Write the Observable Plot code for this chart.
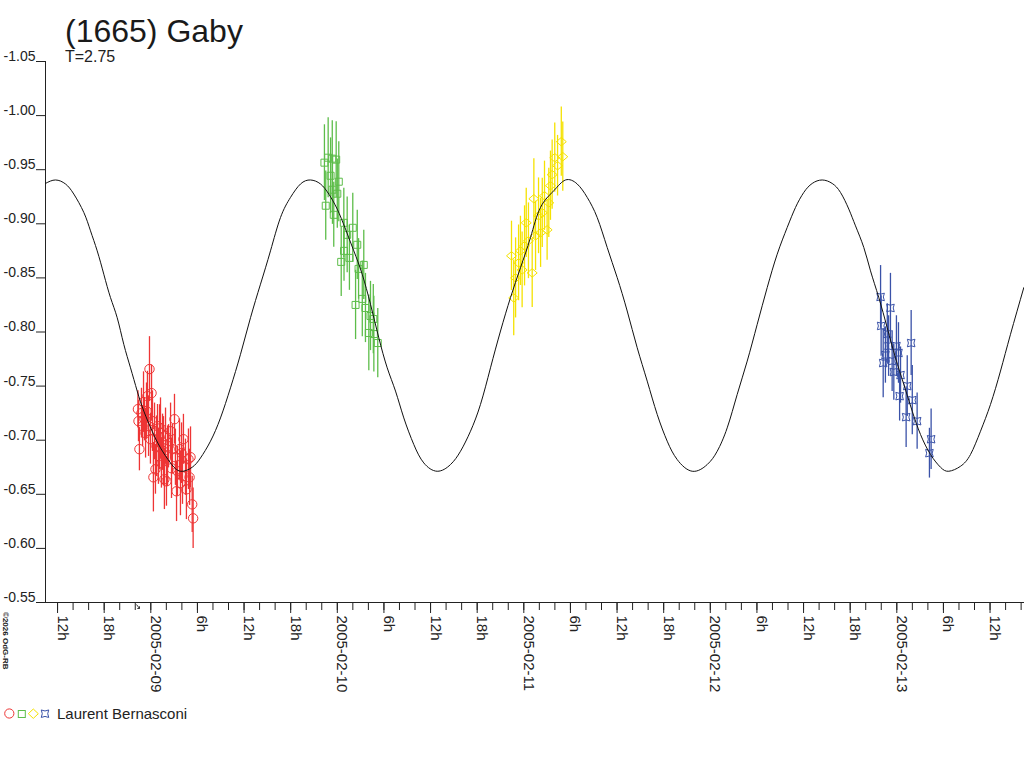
<!DOCTYPE html>
<html>
<head>
<meta charset="utf-8">
<script src="https://cdn.jsdelivr.net/npm/d3@7"></script>
<script src="https://cdn.jsdelivr.net/npm/@observablehq/plot@0.6"></script>
<style>
  body { margin: 0; background: #fff; font-family: "Liberation Sans", Arial, sans-serif; }
  #wrap { position: relative; width: 1024px; height: 768px; overflow: hidden; background: #fff; }
  #chart { position: absolute; left: 0; top: 0; }
  .title { position: absolute; left: 65px; top: 15px; font-size: 32px; line-height: 32px; color: #1a1a1a; white-space: nowrap; }
  .sub { position: absolute; left: 65px; top: 49px; font-size: 16px; line-height: 16px; color: #222; white-space: nowrap; }
  #deco { position: absolute; left: 0; top: 0; pointer-events: none; }
</style>
</head>
<body>
<div id="wrap">
  <div id="chart"></div>
  <div class="title">(1665) Gaby</div>
  <div class="sub">T=2.75</div>
  <svg id="deco" width="1024" height="768"></svg>
</div>
<script>
// ---------- data (day = decimal day of February 2005, UTC) ----------
const curveDay = [8.4354, 8.489, 8.5426, 8.5871, 8.6408, 8.6767, 8.7126, 8.748, 8.7839, 8.8198,
  8.8552, 8.8912, 8.9271, 8.9625, 9.0075, 9.052, 9.1056, 9.1592, 9.222, 9.2665,
  9.3201, 9.3737, 9.4273, 9.481, 9.5346, 9.5882, 9.6418, 9.6954, 9.7491, 9.8027,
  9.8563, 9.9099, 9.9544, 9.9995, 10.044, 10.0885, 10.1335, 10.178, 10.2225, 10.2676,
  10.3121, 10.3566, 10.4102, 10.4638, 10.5357, 10.607, 10.6606, 10.7142, 10.7678, 10.8214,
  10.8751, 10.9287, 10.9823, 11.0359, 11.0895, 11.1609, 11.2236, 11.2863, 11.34, 11.3936,
  11.4472, 11.5008, 11.5544, 11.608, 11.6617, 11.7153, 11.7689, 11.8225, 11.903, 11.9834,
  12.037, 12.0906, 12.1442, 12.1979, 12.2515, 12.3051, 12.3587, 12.4123, 12.4568, 12.5013,
  12.5464, 12.6, 12.6536, 12.6981, 12.7426, 12.7786, 12.8231, 12.859, 12.9035, 12.9485,
  12.993, 13.0375, 13.0826, 13.1271, 13.1807, 13.2343, 13.2788, 13.3416, 13.3952, 13.4488,
  13.5024, 13.556, 13.6097, 13.681];
const curveMag = [-0.9373, -0.9405, -0.9368, -0.9275, -0.9105, -0.8935, -0.875, -0.8534, -0.8318, -0.8132,
  -0.7886, -0.7669, -0.7454, -0.7269, -0.7083, -0.6929, -0.679, -0.6713, -0.675, -0.6836,
  -0.6991, -0.7206, -0.7484, -0.7794, -0.8132, -0.8442, -0.875, -0.9058, -0.9244, -0.9368,
  -0.9405, -0.9368, -0.9275, -0.9136, -0.8951, -0.875, -0.8534, -0.8256, -0.7947, -0.7669,
  -0.7454, -0.7206, -0.696, -0.679, -0.6713, -0.6775, -0.6898, -0.7083, -0.7331, -0.7669,
  -0.8009, -0.8318, -0.8595, -0.8873, -0.9151, -0.9306, -0.9405, -0.9368, -0.9244, -0.9058,
  -0.8781, -0.8503, -0.8194, -0.7855, -0.7546, -0.7238, -0.6991, -0.6821, -0.6713, -0.6775,
  -0.6898, -0.7114, -0.7423, -0.7731, -0.8071, -0.841, -0.8719, -0.8966, -0.9151, -0.929,
  -0.9373, -0.9405, -0.9373, -0.929, -0.9136, -0.8981, -0.8781, -0.8565, -0.8318, -0.804,
  -0.7762, -0.7516, -0.7269, -0.7053, -0.6868, -0.675, -0.6713, -0.6759, -0.6868, -0.7083,
  -0.7331, -0.7639, -0.7979, -0.841];

const redDay = [8.931, 8.934, 8.939, 8.950, 8.956, 8.961, 8.966, 8.972, 8.977, 8.982,
  8.988, 8.993, 8.998, 9.004, 9.009, 9.014, 9.020, 9.025, 9.031, 9.036,
  9.041, 9.047, 9.052, 9.057, 9.063, 9.068, 9.073, 9.079, 9.084, 9.090,
  9.095, 9.106, 9.111, 9.116, 9.127, 9.132, 9.138, 9.143, 9.154, 9.159,
  9.165, 9.170, 9.175, 9.186, 9.191, 9.202, 9.208, 9.213, 9.222, 9.227];
const redMag = [-0.7287, -0.7176, -0.6917, -0.725, -0.713, -0.7352, -0.7194, -0.7065, -0.7269, -0.7407,
  -0.713, -0.7657, -0.7009, -0.7435, -0.7176, -0.6657, -0.7083, -0.6731, -0.6944, -0.713,
  -0.6852, -0.7028, -0.7111, -0.6787, -0.6981, -0.6898, -0.6639, -0.7037, -0.662, -0.6852,
  -0.6944, -0.7083, -0.6741, -0.6917, -0.7194, -0.6843, -0.6528, -0.6713, -0.6917, -0.6602,
  -0.688, -0.6667, -0.7009, -0.675, -0.6546, -0.6824, -0.6657, -0.6843, -0.6407, -0.6278];
const redErr = [0.017, 0.019, 0.020, 0.023, 0.019, 0.028, 0.020, 0.023, 0.026, 0.023,
  0.028, 0.030, 0.023, 0.026, 0.028, 0.032, 0.026, 0.023, 0.028, 0.020,
  0.026, 0.030, 0.028, 0.023, 0.026, 0.032, 0.028, 0.026, 0.023, 0.028,
  0.020, 0.026, 0.028, 0.023, 0.023, 0.026, 0.028, 0.023, 0.028, 0.030,
  0.028, 0.026, 0.023, 0.026, 0.028, 0.028, 0.026, 0.028, 0.026, 0.028];

const greenDay = [9.931, 9.938, 9.951, 9.964, 9.973, 9.974, 9.981, 9.994, 10.000, 10.008,
  10.021, 10.035, 10.036, 10.053, 10.065, 10.083, 10.098, 10.107, 10.114, 10.134,
  10.142, 10.151, 10.169, 10.178, 10.193, 10.196, 10.217];
const greenMag = [-0.9565, -0.9167, -0.9611, -0.9444, -0.9602, -0.9315, -0.9083, -0.9593, -0.9278, -0.9389,
  -0.8648, -0.9009, -0.875, -0.8898, -0.8685, -0.8963, -0.825, -0.8806, -0.8583, -0.8306,
  -0.862, -0.8222, -0.7991, -0.8148, -0.812, -0.7981, -0.7898];
const greenErr = [0.035, 0.032, 0.037, 0.035, 0.035, 0.032, 0.030, 0.035, 0.032, 0.037,
  0.032, 0.032, 0.028, 0.035, 0.030, 0.032, 0.032, 0.032, 0.028, 0.035,
  0.032, 0.032, 0.035, 0.032, 0.032, 0.035, 0.032];

const yellowDay = [10.934, 10.946, 10.956, 10.972, 10.982, 10.991, 11.004, 11.013, 11.025, 11.045,
  11.054, 11.063, 11.079, 11.090, 11.099, 11.111, 11.125, 11.134, 11.143, 11.152,
  11.166, 11.181, 11.201, 11.209];
const yellowMag = [-0.8704, -0.8315, -0.85, -0.8639, -0.875, -0.8574, -0.8796, -0.9009, -0.8843, -0.8546,
  -0.9231, -0.8889, -0.9074, -0.8917, -0.9102, -0.9259, -0.8944, -0.9194, -0.9352, -0.9454,
  -0.9611, -0.9537, -0.9759, -0.962];
const yellowErr = [0.032, 0.035, 0.037, 0.035, 0.032, 0.035, 0.037, 0.032, 0.035, 0.032,
  0.037, 0.032, 0.035, 0.032, 0.032, 0.032, 0.028, 0.032, 0.032, 0.032,
  0.032, 0.028, 0.032, 0.032];

const blueDay = [12.913, 12.916, 12.927, 12.939, 12.949, 12.956, 12.966, 12.975, 12.984, 12.998,
  13.009, 13.015, 13.020, 13.050, 13.056, 13.077, 13.083, 13.109, 13.175, 13.184];
const blueMag = [-0.8324, -0.8056, -0.7713, -0.7787, -0.7981, -0.787, -0.8222, -0.7731, -0.763, -0.787,
  -0.7806, -0.7407, -0.7602, -0.7213, -0.75, -0.7898, -0.737, -0.7176, -0.688, -0.7009];
const blueErr = [0.029, 0.028, 0.032, 0.026, 0.028, 0.028, 0.032, 0.028, 0.026, 0.028,
  0.028, 0.023, 0.026, 0.028, 0.028, 0.030, 0.032, 0.026, 0.023, 0.028];

const yTicks = [-1.05, -1.00, -0.95, -0.90, -0.85, -0.80, -0.75, -0.70, -0.65, -0.60, -0.55];
const yDomain = [-1.05, -0.55];
const xDomainDays = [8.4354, 13.6847];
const observer = "Laurent Bernasconi";
const copyright = "\u00a92026 OdG-RB";

// ---------- build ----------
const toDate = d => new Date(Date.UTC(2005, 1, 1) + (d - 1) * 864e5);
const xDomain = xDomainDays.map(toDate);
const minorTicks = d3.utcHour.every(2).range(xDomain[0], xDomain[1]);
const majorTicks = minorTicks.filter(d => d.getUTCHours() % 6 === 0);
const dateFmt = d3.utcFormat("%Y-%m-%d");
const tickLabel = d => d.getUTCHours() === 0 ? dateFmt(d) : d.getUTCHours() + "h";

const rows = (days, mags, errs) => days.map((d, i) => ({t: toDate(d), mag: mags[i], err: errs[i]}));
const curve = curveDay.map((d, i) => ({t: toDate(d), mag: curveMag[i]}));
const red = rows(redDay, redMag, redErr);
const green = rows(greenDay, greenMag, greenErr);
const yellow = rows(yellowDay, yellowMag, yellowErr);
const blue = rows(blueDay, blueMag, blueErr);

const C = {red: "#ee3535", green: "#5dbd4a", yellow: "#f5e200", blue: "#3a52a8", axis: "#222"};

const squareSym = {draw(ctx, size) { const r = Math.sqrt(size / Math.PI); ctx.rect(-r, -r, 2 * r, 2 * r); }};
const diamondSym = {draw(ctx, size) { const r = Math.sqrt(size / Math.PI);
  ctx.moveTo(-r, 0); ctx.lineTo(0, -0.85 * r); ctx.lineTo(r, 0); ctx.lineTo(0, 0.85 * r); ctx.closePath(); }};
const starSym = {draw(ctx, size) { const r = Math.sqrt(size / Math.PI), k = 0.45 * r;
  ctx.moveTo(-r, -r); ctx.quadraticCurveTo(0, -k, r, -r); ctx.quadraticCurveTo(k, 0, r, r);
  ctx.quadraticCurveTo(0, k, -r, r); ctx.quadraticCurveTo(-k, 0, -r, -r); ctx.closePath(); }};

const errBars = (data, color) => Plot.ruleX(data, {x: "t", y1: d => d.mag - d.err, y2: d => d.mag + d.err, stroke: color, strokeWidth: 1.3});
const dots = (data, color, symbol, r) => Plot.dot(data, {x: "t", y: "mag", stroke: color, fill: "none", symbol, r, strokeWidth: 1});

const chart = Plot.plot({
  width: 1024,
  height: 768,
  marginLeft: 45,
  marginRight: 0,
  marginTop: 61,
  marginBottom: 166,
  style: {fontFamily: '"Liberation Sans", Arial, sans-serif', fontSize: "14px", color: "#222", background: "transparent", overflow: "visible"},
  x: {type: "utc", domain: xDomain, axis: null},
  y: {domain: yDomain, reverse: true, axis: null},
  marks: [
    Plot.ruleX([xDomain[0]], {y1: yDomain[0], y2: yDomain[1], stroke: C.axis}),
    Plot.ruleY([yDomain[1]], {stroke: C.axis}),
    Plot.axisY({ticks: yTicks, tickSize: 9, tickFormat: () => "", label: null, stroke: C.axis}),
    Plot.axisY({ticks: yTicks, tickSize: 0, tickPadding: 10, tickFormat: d => d.toFixed(2), dy: -5, fontSize: 14, label: null, fill: "#222"}),
    Plot.axisX({ticks: minorTicks, tickSize: 8, tickFormat: () => "", label: null, stroke: C.axis}),
    Plot.axisX({ticks: majorTicks, tickSize: 11, tickFormat: () => "", label: null, stroke: C.axis}),
    Plot.text(majorTicks, {x: d => d, text: tickLabel, frameAnchor: "bottom", rotate: 90, textAnchor: "start", lineAnchor: "bottom", dy: 13, dx: 0, fontSize: 15, fill: "#222"}),
    errBars(red, C.red), dots(red, C.red, "circle", 4.7),
    errBars(green, C.green), dots(green, C.green, squareSym, 3.5),
    errBars(yellow, C.yellow), dots(yellow, C.yellow, diamondSym, 5),
    errBars(blue, C.blue), dots(blue, C.blue, starSym, 3.8),
    Plot.line(curve, {x: "t", y: "mag", stroke: "#111", strokeWidth: 1, curve: "natural"})
  ]
});
document.getElementById("chart").appendChild(chart);

// ---------- decorations: legend, copyright ----------
const deco = d3.select("#deco");
const lg = deco.append("g").attr("fill", "none").attr("stroke-width", 1);
lg.append("circle").attr("cx", 9.3).attr("cy", 713.5).attr("r", 4.6).attr("stroke", C.red);
lg.append("rect").attr("x", 18.3).attr("y", 710.5).attr("width", 7).attr("height", 7).attr("stroke", C.green);
lg.append("path").attr("d", "M28.3,713.7L33.3,709L38.3,713.7L33.3,718.4Z").attr("stroke", C.yellow);
lg.append("path").attr("transform", "translate(45,713.7)").attr("d", d3.symbol(starSym, Math.PI * 14)()).attr("stroke", C.blue);
deco.append("text").attr("x", 57).attr("y", 718.5).attr("font-size", 15).attr("fill", "#222")
  .attr("font-family", '"Liberation Sans", Arial, sans-serif').text(observer);
deco.append("text").attr("transform", "translate(2.5,612) rotate(90)").attr("font-size", 8).attr("font-weight", "bold")
  .attr("fill", "#222").attr("font-family", '"Liberation Sans", Arial, sans-serif').text(copyright);
deco.append("path").attr("d", "M136.5,604.5L139.5,608.5M139.5,608.5L139.5,606.3M139.5,608.5L137.3,608.5")
  .attr("stroke", "#222").attr("fill", "none").attr("stroke-width", 0.9);
</script>
</body>
</html>
